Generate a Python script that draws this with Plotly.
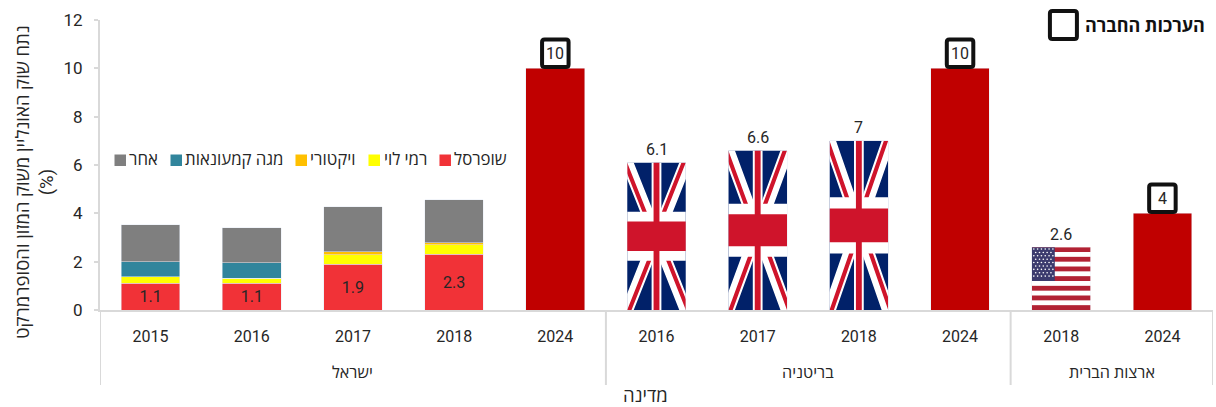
import base64
import plotly.graph_objects as go

# Category axis: one slot per country/year pair
years = ["2015", "2016", "2017", "2018", "2024", "2016", "2017", "2018", "2024", "2018", "2024"]
groups = ["ישראל", "בריטניה", "ארצות הברית"]
group_slots = [(0, 4), (5, 8), (9, 10)]

# Israeli retailers, stacked (share points)
il_slots = [0, 1, 2, 3]
supersol = [1.1, 1.1, 1.9, 2.3]
rami_levy = [0.27, 0.22, 0.38, 0.40]
victory = [0, 0, 0.13, 0.09]
mega = [0.63, 0.64, 0, 0]
other = [1.53, 1.45, 1.87, 1.78]

# Company estimates for 2024
est_slots = [4, 8, 10]
est_values = [10, 10, 4]

# Flag-filled bars
uk_slots = [5, 6, 7]
uk_values = [6.1, 6.6, 7]
us_slots = [9]
us_values = [2.6]

series_names = ["שופרסל", "רמי לוי", "ויקטורי", "מגה קמעונאות", "אחר"]
series_colors = ["#F13237", "#FFFF00", "#FFC000", "#31859C", "#7F7F7F"]

TEXT = "#262626"
GRID = "#D9D9D9"
FONT = "Roboto, Open Sans"
BAR_W = 0.58

W, H = 1216, 407
L, R, T, B = 99.5, 3.4, 20, 97


def uri(svg):
    return "data:image/svg+xml;base64," + base64.b64encode(svg.encode()).decode()


UNION_JACK = uri(
    '<svg xmlns="http://www.w3.org/2000/svg" viewBox="0 0 60 30" width="600" height="600" '
    'preserveAspectRatio="none">'
    '<clipPath id="t"><path d="M30,15h30v15zv15h-30zh-30v-15zv-15h30z"/></clipPath>'
    '<rect width="60" height="30" fill="#012169"/>'
    '<path d="M0,0L60,30M60,0L0,30" stroke="#fff" stroke-width="6"/>'
    '<path d="M0,0L60,30M60,0L0,30" clip-path="url(#t)" stroke="#CF142B" stroke-width="4"/>'
    '<path d="M30,0v30M0,15h60" stroke="#fff" stroke-width="10"/>'
    '<path d="M30,0v30M0,15h60" stroke="#CF142B" stroke-width="6"/>'
    "</svg>"
)


def stars_flag():
    parts = [
        '<svg xmlns="http://www.w3.org/2000/svg" viewBox="0 0 100 130" width="600" height="600" '
        'preserveAspectRatio="none"><rect width="100" height="130" fill="#fff"/>'
    ]
    for i in range(0, 13, 2):
        parts.append(f'<rect y="{i * 10}" width="100" height="10" fill="#B22234"/>')
    parts.append('<rect width="39" height="70" fill="#3C3B6E"/>')
    for row in range(9):
        n = 6 if row % 2 == 0 else 5
        off = 3.25 if row % 2 == 0 else 6.5
        for c in range(n):
            parts.append(
                f'<ellipse cx="{off + c * 6.5}" cy="{3.9 + row * 7.0}" rx="1.4" ry="1.6" fill="#fff"/>'
            )
    parts.append("</svg>")
    return uri("".join(parts))


STARS = stars_flag()

fig = go.Figure()

labels = [[f"{v:g}" for v in supersol], None, None, None, None]
for name, values, color, text in zip(
    series_names, [supersol, rami_levy, victory, mega, other], series_colors, labels
):
    fig.add_bar(
        x=il_slots, y=values, name=name, marker_color=color, width=BAR_W,
        text=text, textposition="inside" if text else None, insidetextanchor="middle",
        textangle=0, textfont=dict(size=16, color=TEXT, family=FONT),
        showlegend=False,
    )

fig.add_bar(x=est_slots, y=est_values, name="הערכות החברה", marker_color="#C00000",
            width=BAR_W, showlegend=False)
fig.add_bar(x=uk_slots, y=uk_values, name="בריטניה", marker_color="rgba(0,0,0,0)",
            width=BAR_W, showlegend=False)
fig.add_bar(x=us_slots, y=us_values, name="ארצות הברית", marker_color="rgba(0,0,0,0)",
            width=BAR_W, showlegend=False)

# Flags stretched over their transparent bars
images = []
for slots, values, src in [(uk_slots, uk_values, UNION_JACK), (us_slots, us_values, STARS)]:
    for s, v in zip(slots, values):
        images.append(dict(source=src, xref="x", yref="y", x=s, y=v, sizex=BAR_W, sizey=v,
                           xanchor="center", yanchor="top", sizing="stretch", layer="above"))

annotations = []
shapes = []


def rounded_box(w, h, lift=0.0, r=2.5):
    """Rounded square path in pixels, centred on the anchor and raised by lift."""
    x0, x1, y0, y1 = -w / 2, w / 2, lift - h / 2, lift + h / 2
    return (f"M{x0 + r},{y0}L{x1 - r},{y0}Q{x1},{y0} {x1},{y0 + r}L{x1},{y1 - r}"
            f"Q{x1},{y1} {x1 - r},{y1}L{x0 + r},{y1}Q{x0},{y1} {x0},{y1 - r}"
            f"L{x0},{y0 + r}Q{x0},{y0} {x0 + r},{y0}Z")


def label(**kw):
    kw.setdefault("showarrow", False)
    kw.setdefault("xanchor", "center")
    kw.setdefault("yanchor", "middle")
    annotations.append(kw)


# Value labels above flags
for s, v in zip(uk_slots + us_slots, uk_values + us_values):
    label(x=s, y=v, text=f"{v:g}", yshift=13, font=dict(size=16, color=TEXT, family=FONT))

# Boxed labels above the estimate bars
for s, v in zip(est_slots, est_values):
    label(x=s, y=v, text=f"{v:g}", yshift=15, font=dict(size=16, color=TEXT, family=FONT))
    shapes.append(dict(type="path", xref="x", yref="y", xsizemode="pixel", ysizemode="pixel",
                       xanchor=s, yanchor=v, path=rounded_box(26.5, 27.5, lift=15.2),
                       line=dict(color="#111111", width=4), fillcolor="rgba(0,0,0,0)"))


def px(x):
    return (x - L) / (W - L - R)


def py(y):
    return (H - B - y) / (H - T - B)


# Key for the boxed labels
shapes.append(dict(type="path", xref="paper", yref="paper", xsizemode="pixel", ysizemode="pixel",
                   xanchor=px(1063), yanchor=py(25), path=rounded_box(27, 28),
                   line=dict(color="#111111", width=4), fillcolor="rgba(0,0,0,0)"))
label(xref="paper", yref="paper", x=px(1207), y=py(25), xanchor="right",
      text="<b>הערכות החברה</b>", font=dict(size=18, color="#111111", family=FONT))

# Legend row, laid out right to left
legend_right = [507, 427, 355, 283, 158]
legend_square = [439, 368, 295, 170, 114]
for name, color, tx, sq in zip(series_names, series_colors, legend_right, legend_square):
    label(xref="paper", yref="paper", x=px(tx), y=py(159), xanchor="right", xshift=2,
          text=name, font=dict(size=16.8, color=TEXT, family=FONT))
    shapes.append(dict(type="rect", xref="paper", yref="paper", x0=px(sq), x1=px(sq + 11.5),
                       y0=py(166), y1=py(154.5), fillcolor=color, line_width=0))

# Country group labels and the dividers between them
for name, (a, b) in zip(groups, group_slots):
    label(xref="x", yref="paper", x=(a + b) / 2, y=py(372), text=name,
          font=dict(size=16.2, color=TEXT, family=FONT))
for edge in [group_slots[0][0] - 0.5, group_slots[1][0] - 0.5, group_slots[2][0] - 0.5,
             group_slots[2][1] + 0.5]:
    shapes.append(dict(type="line", xref="x", yref="paper", x0=edge, x1=edge, y0=py(310), y1=py(385),
                       line=dict(color=GRID, width=2)))

# Axis titles
label(xref="paper", yref="paper", x=px(645), y=py(395.5), text="מדינה",
      font=dict(size=18.5, color=TEXT, family=FONT))
label(xref="paper", yref="paper", x=px(34.5), y=py(182), textangle=-90,
      text="נתח שוק האונליין משוק המזון והסופרמרקט<br>(%)",
      font=dict(size=18.5, color=TEXT, family=FONT))

fig.update_layout(
    width=W, height=H, margin=dict(l=L, r=R, t=T, b=B, pad=0),
    barmode="stack", paper_bgcolor="white", plot_bgcolor="white",
    font=dict(family=FONT, color=TEXT), showlegend=False,
    images=images, annotations=annotations, shapes=shapes,
    xaxis=dict(range=[-0.5, 10.5], tickmode="array", tickvals=list(range(len(years))),
               ticktext=years, ticks="", showgrid=False, zeroline=False, showline=True,
               linecolor=GRID, linewidth=2, ticklabelstandoff=11,
               tickfont=dict(size=16, color=TEXT, family=FONT)),
    yaxis=dict(range=[0, 12], dtick=2, ticks="outside", ticklen=4, tickwidth=2, tickcolor=GRID,
               showgrid=False, zeroline=False, showline=True, linecolor=GRID, linewidth=2,
               ticklabelstandoff=8, tickfont=dict(size=17, color=TEXT, family=FONT)),
)

fig.write_html("out.html", config=dict(displayModeBar=False))
